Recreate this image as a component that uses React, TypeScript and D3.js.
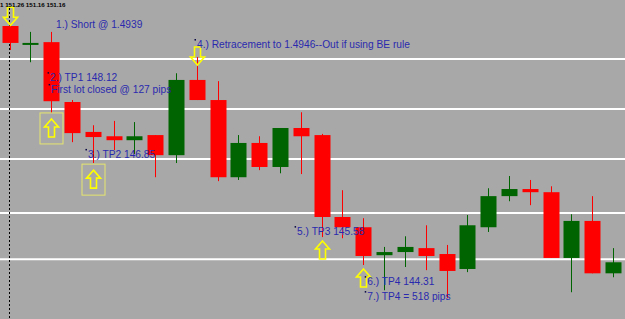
import React from "react";
import * as d3 from "d3";

// OHLC per bar (price)
const opens = [150.23, 149.80, 149.82, 148.30, 147.54, 147.43, 147.33, 147.46, 146.95, 148.86, 148.35, 146.39, 147.26, 146.65, 147.64, 147.46, 145.38, 145.12, 144.41, 144.49, 144.59, 144.44, 144.06, 145.12, 145.91, 146.09, 146.01, 144.34, 145.28, 143.95];
const highs = [150.23, 150.08, 150.08, 148.35, 147.71, 147.82, 147.79, 147.46, 149.03, 149.44, 148.83, 147.46, 147.43, 147.64, 148.04, 147.49, 146.06, 145.35, 144.62, 144.89, 145.17, 144.67, 145.43, 146.11, 146.42, 146.32, 146.16, 145.45, 145.91, 144.59];
const lows = [149.62, 149.31, 148.02, 147.28, 146.75, 147.08, 146.98, 146.39, 146.75, 148.35, 146.29, 146.32, 146.57, 146.49, 146.47, 144.87, 144.84, 144.16, 143.52, 144.11, 144.03, 143.32, 143.98, 145.00, 145.78, 145.68, 144.34, 143.47, 143.95, 143.85];
const closes = [149.80, 149.80, 148.32, 147.51, 147.41, 147.33, 147.43, 146.95, 148.86, 148.35, 146.39, 147.26, 146.65, 147.64, 147.43, 145.38, 145.12, 144.39, 144.49, 144.62, 144.39, 144.01, 145.17, 145.91, 146.09, 146.01, 144.34, 145.28, 143.95, 144.23];

// Horizontal price levels
const levels = [149.39, 148.12, 146.85, 145.48, 144.31];

// Header text
const headerText = "1 151.26 151.16 151.16";

// Annotations: text, bar index position, price (baseline)
const noteTexts = ["1.) Short @ 1.4939", "2.) TP1 148.12", "First lot closed @ 127 pips", "3.) TP2 146.85", "4.) Retracement to 1.4946--Out if using BE rule", "5.) TP3 145.58", "6.) TP4 144.31", "7.) TP4 = 518 pips"];
const noteIndex = [2.24, 1.95, 2.0, 3.77, 9.01, 13.82, 17.19, 17.19];
const notePrice = [150.18, 148.83, 148.53, 146.88, 149.67, 144.92, 143.65, 143.27];
const noteDot = [false, true, true, true, true, true, true, true];

// Arrows: bar index, tip price, direction, boxed
const arrowIndex = [0, 9, 2, 4, 15, 17];
const arrowPrice = [150.25, 149.24, 147.87, 146.57, 144.77, 144.06];
const arrowDir = ["down", "down", "up", "up", "up", "up"];
const arrowBoxed = [false, false, true, true, false, false];

const W = 625;
const H = 319;

export default function App() {
  const x = d3.scaleLinear().domain([0, opens.length - 1]).range([9.5, 613]);
  const y = d3.scaleLinear().domain([142.79, 150.89]).range([H, 0]);
  const bw = 16;
  const RED = "#ff0000";
  const GREEN = "#006400";
  const BLUE = "#2a2aae";
  const YEL = "#ffff00";

  const arrowPath = (cx: number, tip: number, dir: string) => {
    const w = 14, h = 18, sw = 6, hh = 8;
    const s = dir === "up" ? 1 : -1;
    const pts: [number, number][] = [
      [cx, tip],
      [cx + w / 2, tip + s * hh],
      [cx + sw / 2, tip + s * hh],
      [cx + sw / 2, tip + s * h],
      [cx - sw / 2, tip + s * h],
      [cx - sw / 2, tip + s * hh],
      [cx - w / 2, tip + s * hh],
    ];
    return d3.line()(pts) + "Z";
  };

  return (
    <svg width={W} height={H} style={{ position: "fixed", left: 0, top: 0, display: "block" }} fontFamily="'Liberation Sans', Arial, sans-serif">
      <rect x={0} y={0} width={W} height={H} fill="#a8a8a8" />
      {levels.map((l, i) => (
        <line key={"l" + i} x1={0} x2={W} y1={y(l)} y2={y(l)} stroke="#ffffff" strokeWidth={2} />
      ))}
      <line x1={9.5} x2={9.5} y1={8} y2={H} stroke="#000" strokeWidth={1} strokeDasharray="2,2" />
      {opens.map((o, i) => {
        const c = closes[i];
        const up = c >= o;
        const col = up ? GREEN : RED;
        const cx = Math.round(x(i)) + 0.5;
        const top = y(Math.max(o, c));
        const bot = y(Math.min(o, c));
        return (
          <g key={"c" + i}>
            <line x1={cx} x2={cx} y1={y(highs[i])} y2={y(lows[i])} stroke={col} strokeWidth={1} />
            <rect x={cx - bw / 2} y={top} width={bw} height={Math.max(bot - top, 2)} fill={col} />
          </g>
        );
      })}
      {arrowIndex.map((ai, i) => {
        const cx = Math.round(x(ai)) + 0.5;
        const tip = y(arrowPrice[i]);
        return (
          <g key={"a" + i}>
            {arrowBoxed[i] && (
              <rect x={cx - 11.5} y={tip - 6} width={23} height={31} fill="none" stroke="#e6e66e" strokeWidth={1} />
            )}
            <path d={arrowPath(cx, tip, arrowDir[i])} fill="none" stroke={YEL} strokeWidth={1.6} />
          </g>
        );
      })}
      {noteTexts.map((t, i) => {
        const tx = x(noteIndex[i]);
        const ty = y(notePrice[i]);
        return (
          <g key={"n" + i}>
            {noteDot[i] && <rect x={tx - 2.5} y={ty - 9} width={1.5} height={1.5} fill="#000040" />}
            <text x={tx} y={ty} fontSize={10.2} fill={BLUE}>{t}</text>
          </g>
        );
      })}
      <text x={0} y={6.5} fontSize={6.2} fontWeight="bold" fill="#000">{headerText}</text>
    </svg>
  );
}
